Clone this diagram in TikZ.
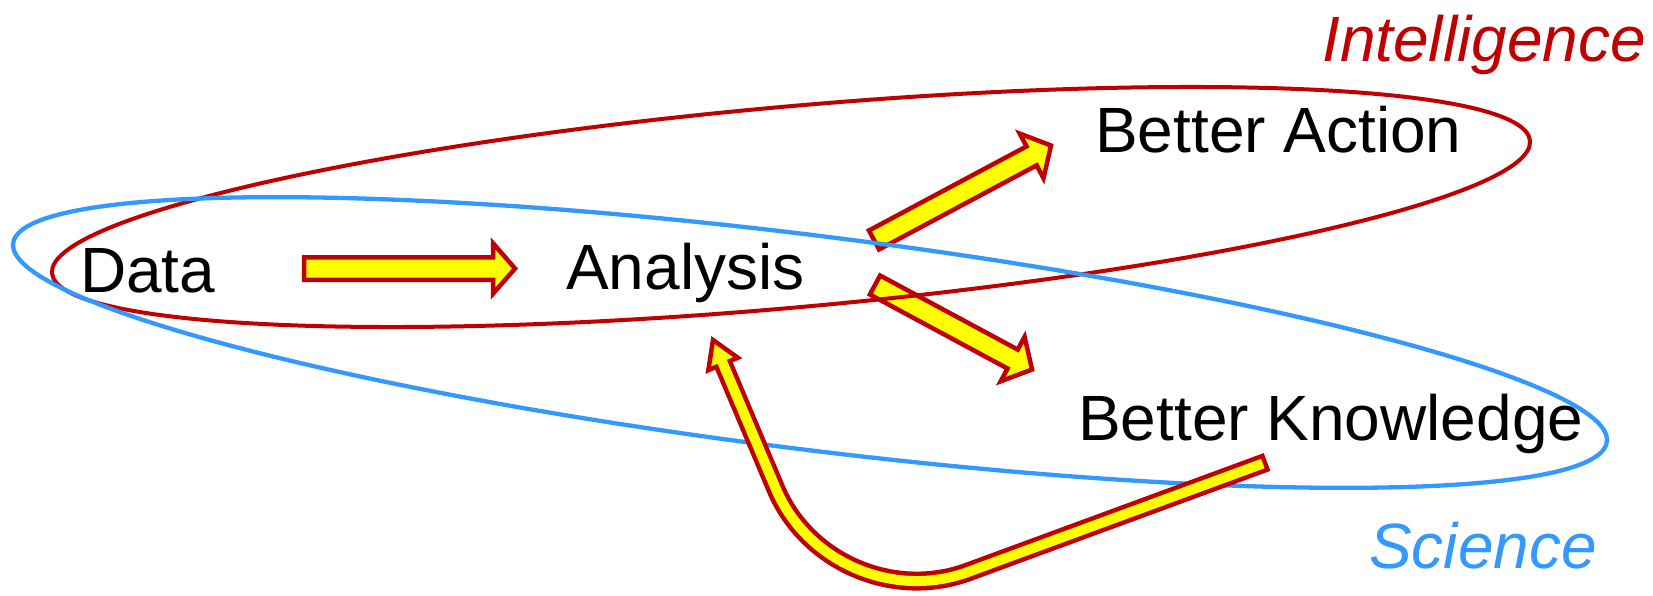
\documentclass[tikz,border=0pt]{standalone}
\usepackage{fontspec}
\setmainfont{Liberation Sans}
\usetikzlibrary{calc}
\definecolor{darkred}{HTML}{C00000}
\definecolor{skyblue}{HTML}{3399FF}
\definecolor{arrowfill}{HTML}{FFFF00}

\tikzset{
  labeltext/.style={inner sep=0pt,anchor=base west,font=\fontsize{64}{70}\selectfont},
  setname/.style={inner sep=0pt,anchor=base west,font=\fontsize{64}{70}\selectfont\itshape},
  blockarrow/.style={draw=darkred,fill=arrowfill,line width=4.5pt,line join=miter},
}
\newcommand{\bigarrow}[5]{%
  \coordinate (back) at ($(#2)!#5!(#1)$);
  \draw[blockarrow] ($(#1)!#3!90:(#2)$) -- ($(back)!#3!90:(#2)$) -- ($(back)!#4!90:(#2)$) -- (#2)
    -- ($(back)!#4!-90:(#2)$) -- ($(back)!#3!-90:(#2)$) -- ($(#1)!#3!-90:(#2)$) -- cycle;
}

\begin{document}
\begin{tikzpicture}[x=1pt,y=-1pt]
    \useasboundingbox (0,0) rectangle (1653,596);
    \coordinate (dataout) at (304,268.5);
    \coordinate (anain) at (515,268.5);
    \coordinate (actout) at (874,240);
    \coordinate (actin) at (1051,145.5);
    \coordinate (knowout) at (875,285);
    \coordinate (knowin) at (1032,369.5);
    \bigarrow{dataout}{anain}{11.25pt}{25.25pt}{22pt}
    \bigarrow{actout}{actin}{10.75pt}{25.25pt}{22pt}
    \bigarrow{knowout}{knowin}{10.75pt}{25.25pt}{22pt}
    \draw[darkred,line width=4pt,rotate around={5.12:(791,207)}]
      (791,207) ellipse [x radius=742pt,y radius=100.5pt];
    \draw[skyblue,line width=4.3pt,rotate around={-7.1:(810,342.5)}]
      (810,342.5) ellipse [x radius=803pt,y radius=107pt];
    \coordinate (loopstart) at (1267,462);
    \coordinate (loopbend) at (832,622);
    \coordinate (loopend) at (713,340);
    \coordinate (loopback) at ($(loopend)!26pt!(loopbend)$);
    \draw[darkred,line width=19pt,rounded corners=145pt] (loopstart) -- (loopbend) -- (loopback);
    \draw[blockarrow] ($(loopback)!16pt!90:(loopend)$) -- (loopend) -- ($(loopback)!16pt!-90:(loopend)$) -- cycle;
    \draw[arrowfill,line width=10pt,rounded corners=145pt]
      ($(loopstart)!4.5pt!(loopbend)$) -- (loopbend) -- ($(loopback)!5pt!(loopend)$);
    \node[labeltext] (data) at (80,292) {Data};
    \node[labeltext] (analysis) at (566,289) {Analysis};
    \node[labeltext] (action) at (1095,153) {Better Action};
    \node[labeltext] (knowledge) at (1078,440) {Better Knowledge};
    \node[setname,text=darkred] (intel) at (1322,62) {Intelligence};
    \node[setname,text=skyblue] (science) at (1369,568) {Science};
\end{tikzpicture}
\end{document}
